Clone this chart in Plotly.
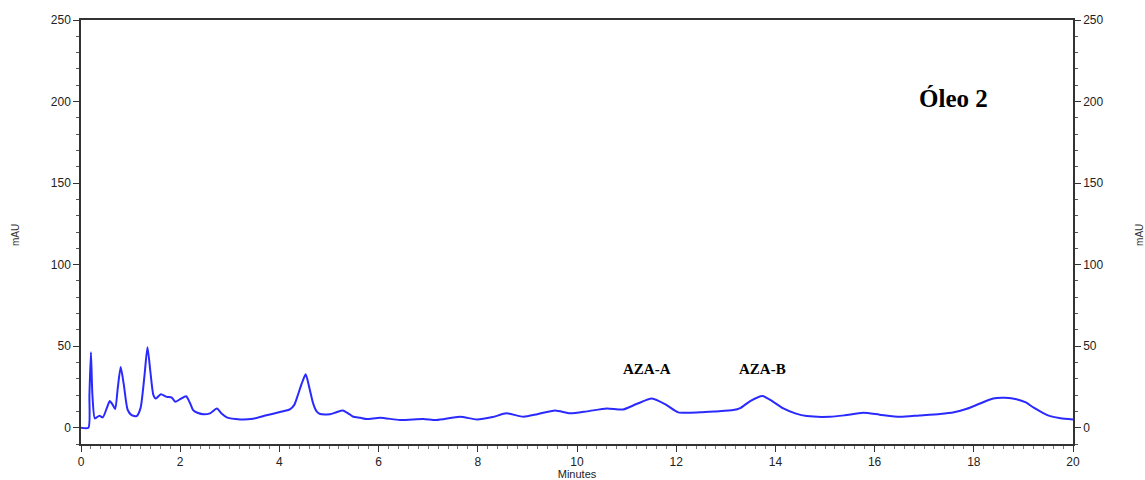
import plotly.graph_objects as go

# Retention time (minutes) and absorbance (mAU)
time_min = [0, 0.15, 0.17, 0.2, 0.23, 0.28, 0.37, 0.44, 0.52, 0.58, 0.64, 0.69, 0.74, 0.8,
            0.86, 0.94, 1.02, 1.12, 1.2, 1.28, 1.34, 1.4, 1.46, 1.51, 1.61, 1.73, 1.83, 1.9,
            2.0, 2.12, 2.2, 2.26, 2.36, 2.47, 2.6, 2.74, 2.84, 2.94, 3.21, 3.47, 3.74, 4.01,
            4.21, 4.3, 4.36, 4.45, 4.53, 4.6, 4.68, 4.75, 4.82, 5.02, 5.15, 5.28, 5.4, 5.49,
            5.63, 5.76, 6.03, 6.43, 6.9, 7.17, 7.64, 7.98, 8.3, 8.58, 8.92, 9.2, 9.56, 9.86,
            10.2, 10.6, 10.93, 11.2, 11.51, 11.8, 12.04, 12.48, 12.8, 13.15, 13.29, 13.5,
            13.74, 13.95, 14.16, 14.4, 14.63, 15.1, 15.4, 15.77, 16.1, 16.51, 16.9, 17.32,
            17.6, 17.86, 18.1, 18.39, 18.63, 18.86, 19.05, 19.2, 19.4, 19.54, 19.75, 20.0]
mau = [0, 0, 20, 46.3, 20, 5.7, 7.3, 6.3, 12, 16.3, 14, 11.4, 24, 37.2,
       27, 11, 7.7, 7.1, 12, 32, 49.4, 34, 20, 17.9, 20.5, 18.9, 18.5, 15.9,
       17.5, 19.3, 15, 10.8, 9, 8.2, 8.8, 11.8, 8.5, 6.3, 5.1, 5.5, 7.6, 9.6,
       11.2, 14, 18.9, 27, 32.7, 25, 14.9, 10, 8.4, 8.2, 9.5, 10.6, 8.5, 6.7,
       6.1, 5.3, 6.1, 4.7, 5.3, 4.7, 6.7, 5.1, 6.5, 8.8, 6.7, 8.3, 10.6, 8.8,
       10, 11.8, 11.2, 14.5, 17.9, 14, 9.4, 9.4, 10, 10.8, 12, 16.5,
       19.5, 16, 11.8, 8.8, 7.1, 6.7, 7.6, 9.1, 8, 6.7, 7.5, 8.4,
       9.5, 11.6, 14.5, 17.9, 18.3, 17.5, 15.5, 12.4, 9, 7.1, 5.8, 5.1]

x_ticks = [0, 2, 4, 6, 8, 10, 12, 14, 16, 18, 20]
y_ticks = [0, 50, 100, 150, 200, 250]

peak_labels = ["AZA-A", "AZA-B"]
peak_label_x = [11.41, 13.73]
peak_label_y = [35.8, 35.8]
title_text = "Óleo 2"

fig = go.Figure()
fig.add_trace(go.Scatter(x=time_min, y=mau, mode="lines",
                         line=dict(color="#2a2aff", width=2, shape="spline", smoothing=0.6),
                         showlegend=False, hoverinfo="skip"))
fig.add_trace(go.Scatter(x=[time_min[0]], y=[mau[0]], yaxis="y2", mode="markers",
                         marker=dict(opacity=0), showlegend=False, hoverinfo="skip"))

tick_font = dict(family="Liberation Sans, Arial", size=12, color="#222")
axis_common = dict(showgrid=False, zeroline=False, showline=True, linecolor="#333",
                   linewidth=1.5, ticks="outside", ticklen=6, tickwidth=1.3, tickcolor="#333",
                   tickfont=tick_font, automargin=False)

fig.update_layout(
    width=1145, height=480,
    margin=dict(l=81, r=72, t=20, b=36),
    paper_bgcolor="white", plot_bgcolor="white",
    xaxis=dict(range=[0, 20], tickvals=x_ticks, mirror=True,
               minor=dict(dtick=0.2, ticks="outside", ticklen=3, tickcolor="#777", tickwidth=1),
               title=dict(text="Minutes", font=dict(family="Liberation Sans, Arial", size=11, color="#222"),
                          standoff=0),
               **axis_common),
    yaxis=dict(range=[-10, 250], tickvals=y_ticks,
               minor=dict(dtick=10, tick0=0, ticks="outside", ticklen=3, tickcolor="#555", tickwidth=1),
               **axis_common),
    yaxis2=dict(range=[-10, 250], tickvals=y_ticks, overlaying="y", side="right",
                minor=dict(dtick=10, tick0=0, ticks="outside", ticklen=3, tickcolor="#555", tickwidth=1),
                **axis_common),
)

for txt, px, py in zip(peak_labels, peak_label_x, peak_label_y):
    fig.add_annotation(x=px, y=py, xref="x", yref="y", text=f"<b>{txt}</b>", showarrow=False,
                       font=dict(family="Liberation Serif, Times New Roman", size=15, color="black"))

fig.add_annotation(x=17.6, y=201.6, xref="x", yref="y", text=f"<b>{title_text}</b>", showarrow=False,
                   font=dict(family="Liberation Serif, Times New Roman", size=25, color="black"))

for xp in [-0.0655, 1.0675]:
    fig.add_annotation(x=xp, y=0.493, xref="paper", yref="paper", text="mAU", textangle=-90,
                       xanchor="center", yanchor="middle",
                       showarrow=False, font=dict(family="Liberation Sans, Arial", size=10, color="#333"))

fig.write_html("out.html")
